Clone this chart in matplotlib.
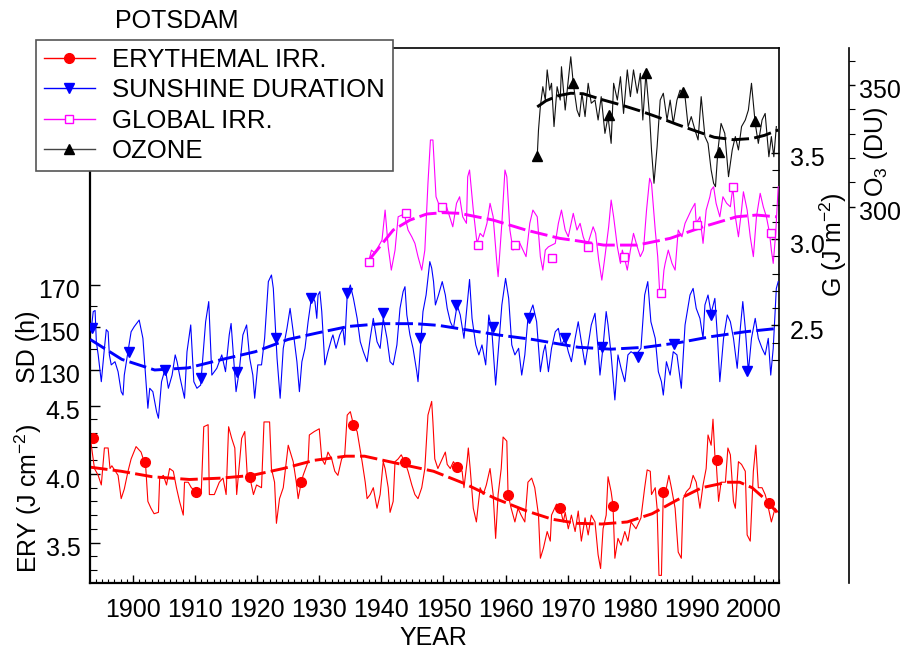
import matplotlib
matplotlib.use('Agg')
import matplotlib.pyplot as plt
from matplotlib.ticker import FixedLocator, FixedFormatter
from matplotlib.lines import Line2D
from matplotlib.transforms import ScaledTranslation

plt.rcParams['font.family'] = ['Liberation Sans', 'DejaVu Sans']
plt.rcParams['mathtext.fontset'] = 'custom'
plt.rcParams['mathtext.rm'] = 'Liberation Sans'
plt.rcParams['mathtext.it'] = 'Liberation Sans:italic'
plt.rcParams['mathtext.bf'] = 'Liberation Sans:bold'

# ---------------- data ----------------
ery_years = [1893.2, 1893.8, 1894.4, 1894.9, 1895.4, 1896.0, 1896.3, 1896.6, 1897.6, 1898.1,
             1898.6, 1899.2, 1899.7, 1900.5, 1901.3, 1901.8, 1902.0, 1902.4, 1902.9, 1903.4,
             1904.1, 1904.3, 1904.9, 1905.4, 1905.9, 1906.5, 1907.0, 1907.5, 1908.1, 1908.3,
             1908.9, 1909.4, 1910.2, 1911.0, 1911.4, 1912.1, 1912.3, 1913.1, 1913.9, 1914.5,
             1915.0, 1915.4, 1915.9, 1916.4, 1916.7, 1917.5, 1918.0, 1918.4, 1918.8, 1919.4,
             1919.9, 1920.7, 1921.1, 1922.0, 1922.3, 1922.8, 1923.1, 1923.6, 1924.2, 1925.0,
             1925.8, 1926.3, 1926.6, 1927.1, 1927.4, 1928.2, 1928.4, 1929.2, 1930.0, 1930.4,
             1930.9, 1931.4, 1932.0, 1932.5, 1933.0, 1933.6, 1934.1, 1934.5, 1935.0, 1935.5,
             1936.1, 1936.9, 1937.4, 1937.7, 1938.2, 1938.7, 1939.3, 1939.8, 1940.3, 1940.6,
             1941.1, 1941.4, 1941.9, 1942.2, 1942.7, 1943.2, 1943.8, 1944.3, 1944.9, 1945.4,
             1945.9, 1946.5, 1947.0, 1947.5, 1948.1, 1948.3, 1948.6, 1949.1, 1949.8, 1950.3,
             1950.6, 1951.1, 1951.6, 1952.2, 1953.0, 1953.3, 1953.8, 1954.0, 1954.3, 1954.8,
             1955.3, 1955.9, 1956.4, 1956.9, 1957.5, 1958.0, 1958.4, 1958.8, 1959.3, 1959.6,
             1960.2, 1960.4, 1960.9, 1961.5, 1962.0, 1962.5, 1963.1, 1963.6, 1964.2, 1964.7,
             1965.3, 1965.6, 1966.1, 1966.7, 1967.2, 1967.4, 1968.2, 1968.8, 1969.3, 1969.6,
             1970.1, 1970.6, 1971.2, 1971.7, 1972.2, 1972.8, 1973.3, 1973.8, 1974.4, 1974.9,
             1975.3, 1975.7, 1976.2, 1976.5, 1977.0, 1977.3, 1977.6, 1978.1, 1978.6, 1979.2,
             1979.7, 1980.2, 1981.0, 1981.8, 1982.4, 1982.8, 1983.3, 1983.5, 1984.1, 1984.4,
             1984.7, 1985.1, 1985.4, 1985.9, 1986.3, 1986.7, 1987.3, 1987.8, 1988.3, 1988.6,
             1989.1, 1989.7, 1990.2, 1990.7, 1991.3, 1991.8, 1992.3, 1992.6, 1993.1, 1993.4,
             1993.7, 1993.9, 1994.3, 1994.7, 1995.4, 1995.8, 1996.2, 1996.7, 1997.0, 1997.5,
             1998.0, 1998.6, 1998.9, 1999.4, 1999.9, 2000.3, 2000.7, 2001.3, 2001.8, 2002.1,
             2002.8, 2003.4, 2003.9]
ery_values = [4.24, 4.04, 3.99, 3.92, 4.19, 4.19, 4.04, 4.06, 3.99, 3.82,
              3.89, 4.02, 4.11, 4.20, 4.16, 4.09, 4.09, 3.80, 3.75, 3.71,
              3.72, 3.97, 3.99, 3.92, 4.04, 4.02, 3.90, 3.80, 3.70, 3.94,
              3.94, 3.90, 3.87, 3.87, 4.345, 4.36, 3.85, 3.85, 3.94, 3.97,
              3.85, 4.345, 4.26, 4.19, 3.85, 4.26, 4.31, 3.99, 3.98, 3.85,
              3.92, 3.90, 4.38, 4.38, 4.04, 3.94, 3.64, 3.82, 3.90, 4.21,
              4.09, 3.94, 3.82, 3.94, 3.99, 4.09, 4.285, 4.31, 4.33, 4.11,
              4.07, 4.16, 4.11, 4.02, 3.99, 4.11, 4.14, 4.43, 4.455, 4.36,
              4.31, 4.09, 3.94, 3.82, 3.85, 3.90, 3.75, 3.85, 4.09, 4.04,
              3.90, 3.72, 3.80, 4.09, 4.11, 4.14, 4.085, 4.02, 3.92, 3.85,
              3.82, 3.90, 4.04, 4.43, 4.53, 4.38, 4.11, 4.04, 4.11, 4.16,
              4.07, 4.04, 4.09, 4.05, 4.02, 3.90, 4.09, 4.19, 4.04, 3.75,
              3.65, 3.90, 3.85, 3.92, 4.04, 3.85, 3.53, 3.85, 4.04, 4.27,
              4.24, 3.85, 3.75, 3.65, 3.75, 3.70, 3.65, 3.94, 3.97, 3.90,
              3.70, 3.385, 3.46, 3.58, 3.51, 3.70, 3.78, 3.75, 3.65, 3.72,
              3.60, 3.70, 3.58, 3.73, 3.51, 3.68, 3.555, 3.70, 3.65, 3.41,
              3.31, 3.60, 3.70, 3.98, 3.87, 3.77, 3.385, 3.53, 3.48, 3.58,
              3.51, 3.65, 3.60, 3.68, 3.90, 4.03, 4.02, 3.85, 3.90, 3.75,
              3.26, 3.26, 3.87, 3.90, 3.99, 3.90, 3.75, 3.43, 3.385, 3.82,
              3.87, 3.90, 3.99, 3.94, 3.75, 3.92, 4.04, 4.285, 4.21, 4.40,
              4.14, 4.10, 3.80, 3.94, 3.94, 4.19, 4.14, 3.80, 3.75, 4.09,
              4.07, 4.02, 3.555, 3.51, 4.02, 4.21, 3.90, 3.90, 3.85, 3.80,
              3.65, 3.75, 3.72]
ery_mark_years = [1893.6, 1902.0, 1910.2, 1918.8, 1927.1, 1935.5, 1943.8, 1952.1, 1960.4,
                  1968.8, 1977.3, 1985.4, 1994.0, 2002.4]
ery_mark_values = [4.26, 4.09, 3.87, 3.98, 3.94, 4.36, 4.085, 4.05, 3.85,
                   3.75, 3.77, 3.87, 4.10, 3.79]
ery_trend_years = [1893.1, 1898.1, 1903.1, 1909.1, 1914.2, 1919.2, 1924.2, 1929.2, 1934.3,
                   1937.3, 1942.3, 1948.4, 1953.4, 1958.4, 1963.4, 1967.5, 1971.5, 1975.5,
                   1979.6, 1983.6, 1987.6, 1991.6, 1995.7, 1997.7, 1999.7, 2001.7, 2003.7]
ery_trend_values = [4.05, 4.02, 3.98, 3.96, 3.97, 3.99, 4.04, 4.10, 4.13,
                    4.13, 4.08, 4.02, 3.93, 3.82, 3.73, 3.67, 3.64, 3.635,
                    3.65, 3.71, 3.81, 3.90, 3.94, 3.94, 3.90, 3.82, 3.72]

sd_years = [1893.3, 1893.6, 1893.9, 1894.1, 1894.4, 1894.9, 1895.4, 1895.7, 1896.0, 1896.2,
            1896.5, 1897.1, 1897.6, 1898.1, 1898.4, 1898.6, 1899.2, 1899.7, 1900.2, 1900.8,
            1901.0, 1901.6, 1902.1, 1902.4, 1902.7, 1903.2, 1903.8, 1904.1, 1904.6, 1905.2,
            1905.7, 1906.3, 1906.8, 1907.1, 1907.6, 1908.3, 1908.7, 1909.3, 1909.8, 1910.3,
            1910.9, 1911.7, 1912.2, 1912.7, 1913.5, 1914.3, 1914.9, 1915.5, 1915.8, 1916.6,
            1917.1, 1917.7, 1918.3, 1918.8, 1919.3, 1919.6, 1920.1, 1920.7, 1921.2, 1921.8,
            1922.3, 1922.6, 1923.2, 1923.7, 1924.2, 1924.8, 1925.3, 1925.8, 1926.4, 1926.8,
            1927.2, 1927.7, 1928.2, 1928.8, 1929.3, 1929.6, 1929.8, 1930.1, 1930.4, 1930.9,
            1931.4, 1932.0, 1932.2, 1932.7, 1933.3, 1933.8, 1934.1, 1934.5, 1935.0, 1935.5,
            1936.1, 1936.6, 1937.1, 1937.7, 1938.2, 1938.7, 1939.3, 1939.8, 1940.3, 1940.9,
            1941.4, 1941.9, 1942.5, 1943.0, 1943.5, 1943.8, 1944.1, 1944.6, 1945.1, 1945.7,
            1945.9, 1946.4, 1946.7, 1947.2, 1947.8, 1948.1, 1948.4, 1948.7, 1949.2, 1949.8,
            1950.3, 1950.6, 1951.1, 1951.6, 1952.2, 1952.7, 1953.3, 1953.8, 1954.2, 1954.6,
            1955.2, 1955.7, 1956.2, 1956.8, 1957.3, 1957.8, 1958.4, 1958.9, 1959.4, 1960.0,
            1960.5, 1961.0, 1961.5, 1962.1, 1962.6, 1963.1, 1963.6, 1964.4, 1965.0, 1965.6,
            1966.1, 1966.4, 1966.9, 1967.4, 1968.0, 1968.5, 1969.0, 1969.6, 1970.1, 1970.6,
            1971.2, 1971.7, 1972.2, 1972.8, 1973.3, 1973.8, 1974.4, 1974.9, 1975.2, 1975.7,
            1976.2, 1976.5, 1977.0, 1977.6, 1978.1, 1978.6, 1979.2, 1979.7, 1980.2, 1981.0,
            1981.8, 1982.4, 1982.9, 1983.4, 1984.1, 1984.6, 1985.1, 1985.4, 1985.9, 1986.5,
            1987.0, 1987.6, 1988.3, 1988.9, 1989.7, 1990.2, 1990.7, 1991.3, 1991.8, 1992.1,
            1992.6, 1993.1, 1993.7, 1994.1, 1994.5, 1995.1, 1995.7, 1996.2, 1996.7, 1997.3,
            1997.8, 1998.2, 1998.6, 1999.1, 1999.6, 2000.2, 2000.7, 2001.3, 2001.8, 2002.3,
            2002.7, 2003.1, 2003.6, 2003.9]
sd_values = [149.6, 157.5, 158.0, 143.3, 137.1, 124.5, 140.2, 149.0, 148.0, 137.1,
             132.4, 133.9, 129.2, 119.8, 118.2, 127.6, 138.6, 148.0, 150.4, 152.7,
             153.5, 144.9, 124.5, 112.0, 121.4, 119.8, 110.4, 107.3, 124.5, 130.8,
             121.4, 127.6, 137.1, 133.9, 126.1, 116.7, 138.6, 151.2, 124.5, 121.4,
             122.9, 152.7, 162.2, 127.6, 130.8, 137.1, 129.2, 146.5, 151.9, 119.8,
             129.2, 146.5, 151.2, 135.5, 127.6, 116.7, 132.4, 132.4, 144.9, 171.6,
             174.7, 168.4, 135.5, 116.7, 140.2, 149.6, 159.0, 148.0, 133.9, 119.8,
             133.9, 140.2, 152.7, 165.3, 162.2, 154.3, 165.3, 166.9, 157.5, 132.4,
             138.6, 144.9, 146.5, 140.2, 146.5, 149.6, 141.8, 165.3, 170.0, 163.7,
             154.3, 143.3, 138.6, 133.9, 144.9, 154.3, 143.3, 140.2, 154.3, 144.9,
             133.9, 132.4, 141.8, 159.0, 166.9, 169.2, 155.9, 146.5, 140.2, 129.2,
             124.5, 144.9, 157.5, 165.3, 181.0, 178.0, 171.6, 160.6, 165.3, 171.6,
             165.3, 159.0, 152.7, 149.6, 160.6, 155.9, 144.9, 160.6, 172.6, 154.3,
             141.8, 137.1, 141.8, 132.4, 155.9, 148.0, 122.9, 141.8, 160.6, 173.1,
             163.7, 141.8, 137.1, 140.2, 127.6, 137.1, 154.3, 160.6, 152.7, 129.2,
             138.6, 141.8, 129.2, 140.2, 148.0, 149.6, 141.8, 144.9, 138.6, 133.9,
             144.9, 152.7, 143.3, 132.4, 141.8, 151.2, 156.7, 140.2, 127.6, 141.0,
             157.5, 151.2, 137.1, 115.9, 137.1, 130.8, 124.5, 137.1, 138.6, 137.1,
             140.2, 165.3, 171.6, 152.7, 144.9, 129.2, 124.5, 118.2, 133.9, 127.6,
             138.6, 137.1, 121.4, 151.2, 165.3, 168.4, 159.0, 154.3, 144.9, 160.6,
             165.3, 156.7, 163.7, 146.5, 124.5, 144.9, 155.9, 152.7, 144.9, 130.8,
             149.6, 162.2, 149.6, 129.2, 144.9, 154.3, 144.9, 140.2, 137.1, 144.9,
             127.6, 140.2, 168.4, 171.6]
sd_mark_years = [1893.4, 1899.3, 1905.1, 1911.0, 1916.8, 1923.0, 1928.6, 1934.4, 1940.3, 1946.2,
                 1952.0, 1957.9, 1963.7, 1969.6, 1975.5, 1981.3, 1987.2, 1993.0, 1998.9]
sd_mark_values = [149.6, 138.6, 130.0, 126.0, 129.0, 145.0, 164.0, 166.0, 157.0, 145.0,
                  160.6, 150.0, 154.3, 145.0, 141.0, 136.0, 142.0, 156.0, 129.5]
sd_trend_years = [1893.1, 1898.2, 1903.5, 1908.9, 1914.4, 1919.7, 1925.0, 1929.8, 1934.7,
                  1940.0, 1945.4, 1949.2, 1953.5, 1958.8, 1964.3, 1971.7, 1977.0, 1982.5,
                  1987.8, 1993.1, 1998.6, 2003.9]
sd_trend_values = [144.4, 135.0, 130.0, 131.0, 135.0, 138.6, 144.4, 147.5, 150.5,
                   151.8, 151.8, 151.0, 149.0, 146.5, 144.4, 140.7, 139.8, 140.7,
                   142.8, 145.7, 148.0, 149.6]

g_years = [1937.9, 1938.4, 1939.0, 1939.5, 1940.1, 1940.6, 1941.1, 1941.6, 1942.2, 1942.7,
           1943.3, 1943.8, 1944.3, 1944.9, 1945.4, 1945.9, 1946.5, 1947.0, 1947.5, 1947.9,
           1948.3, 1948.8, 1949.4, 1949.9, 1950.5, 1951.0, 1951.5, 1952.1, 1952.6, 1953.1,
           1953.7, 1953.9, 1954.2, 1954.8, 1955.4, 1955.9, 1956.4, 1957.0, 1957.5, 1958.0,
           1958.6, 1958.8, 1959.4, 1959.9, 1960.2, 1960.7, 1961.2, 1961.7, 1962.3, 1962.8,
           1963.3, 1963.9, 1964.4, 1965.1, 1965.6, 1966.0, 1966.4, 1966.9, 1968.0, 1968.5,
           1969.0, 1969.6, 1970.1, 1970.9, 1971.5, 1972.0, 1972.5, 1973.1, 1973.6, 1974.1,
           1974.5, 1975.0, 1975.5, 1976.0, 1976.6, 1977.0, 1977.4, 1978.0, 1978.5, 1978.8,
           1979.1, 1979.6, 1980.1, 1980.6, 1981.2, 1981.7, 1982.2, 1982.7, 1983.2, 1983.5,
           1984.1, 1984.5, 1984.8, 1985.2, 1985.5, 1985.7, 1986.2, 1986.8, 1987.3, 1987.8,
           1988.4, 1988.9, 1989.4, 1989.9, 1990.5, 1990.7, 1991.3, 1991.8, 1992.3, 1992.9,
           1993.1, 1993.5, 1993.9, 1994.5, 1995.0, 1995.6, 1996.2, 1996.6, 1997.0, 1997.5,
           1998.0, 1998.3, 1998.9, 1999.4, 1999.9, 2000.4, 2001.0, 2001.5, 2002.0, 2002.5,
           2002.8, 2003.1, 2003.5, 2003.9]
g_values = [2.859, 2.936, 2.917, 2.955, 2.994, 3.168, 2.955, 2.820, 2.936, 3.129,
            3.139, 3.129, 3.052, 3.013, 2.975, 2.898, 2.820, 2.936, 3.323, 3.574,
            3.574, 3.245, 3.187, 3.149, 3.187, 3.129, 3.071, 3.207, 3.245, 3.129,
            3.091, 3.361, 3.400, 3.168, 2.975, 3.033, 3.013, 3.091, 3.207, 3.129,
            2.859, 2.782, 3.091, 3.400, 3.361, 3.052, 2.936, 2.975, 2.975, 2.936,
            2.898, 3.091, 3.168, 3.129, 2.898, 2.820, 2.936, 2.955, 2.975, 3.091,
            3.168, 3.052, 3.013, 3.149, 3.052, 3.091, 3.013, 2.955, 3.013, 3.071,
            3.033, 2.878, 2.762, 2.898, 3.071, 3.226, 3.129, 2.955, 2.859, 2.936,
            2.898, 2.820, 2.936, 3.033, 2.955, 2.898, 2.936, 3.168, 3.352, 3.323,
            3.052, 2.898, 2.700, 2.690, 2.820, 2.859, 2.936, 2.859, 2.820, 3.052,
            3.013, 3.091, 3.129, 3.168, 3.207, 3.091, 3.129, 2.975, 3.168, 3.245,
            3.284, 3.303, 3.207, 3.129, 3.245, 3.207, 3.187, 3.300, 3.129, 3.013,
            3.168, 3.274, 3.168, 3.013, 2.898, 3.129, 3.265, 3.187, 3.129, 3.037,
            2.936, 2.859, 3.033, 3.303]
g_mark_years = [1938.0, 1943.9, 1949.8, 1955.6, 1961.5, 1967.4, 1973.3, 1979.1, 1985.0,
                1990.9, 1996.6, 2002.7]
g_mark_values = [2.869, 3.149, 3.184, 2.965, 2.965, 2.888, 2.955, 2.894, 2.687,
                 3.081, 3.300, 3.037]
g_trend_years = [1938.0, 1941.9, 1944.6, 1947.3, 1949.9, 1952.6, 1958.0, 1963.3, 1968.7,
                 1971.5, 1975.8, 1981.2, 1986.5, 1991.8, 1997.2, 2000.4, 2003.6]
g_trend_values = [2.878, 3.052, 3.110, 3.145, 3.153, 3.149, 3.110, 3.052, 3.004,
                  2.990, 2.965, 2.965, 3.004, 3.071, 3.129, 3.139, 3.129]

o3_years = [1965.1, 1965.3, 1965.6, 1966.0, 1966.4, 1966.7, 1967.1, 1967.4, 1967.8, 1968.3,
            1968.8, 1969.0, 1969.6, 1970.1, 1970.5, 1970.9, 1971.5, 1971.9, 1972.3, 1972.8,
            1973.3, 1973.8, 1974.4, 1974.9, 1975.4, 1976.0, 1976.5, 1977.0, 1977.4, 1978.0,
            1978.5, 1979.0, 1979.6, 1980.1, 1980.6, 1981.2, 1981.7, 1982.1, 1982.6, 1983.2,
            1983.5, 1983.9, 1984.4, 1984.9, 1985.4, 1986.0, 1986.5, 1987.0, 1987.6, 1988.1,
            1988.9, 1989.4, 1989.9, 1990.5, 1991.0, 1991.5, 1992.1, 1992.6, 1993.1, 1993.5,
            1993.8, 1994.2, 1994.7, 1995.3, 1995.9, 1996.5, 1997.0, 1997.5, 1998.0, 1998.6,
            1999.1, 1999.6, 2000.2, 2000.7, 2001.3, 2001.8, 2002.4, 2002.8, 2003.2, 2003.6]
o3_values = [320.8, 331.5, 341.1, 349.3, 343.8, 356.2, 347.9, 350.7, 332.9, 349.3,
             343.8, 357.5, 339.7, 352.1, 361.6, 350.7, 339.7, 337.0, 346.6, 337.0,
             350.7, 342.5, 343.8, 335.6, 345.2, 330.1, 337.0, 326.0, 350.7, 343.8,
             353.4, 338.3, 356.2, 345.2, 356.2, 346.6, 354.8, 335.6, 354.8, 337.0,
             323.3, 309.6, 324.6, 343.8, 346.6, 335.6, 343.8, 334.2, 343.8, 347.9,
             345.2, 332.9, 337.0, 331.5, 327.4, 345.2, 328.8, 326.0, 315.1, 309.6,
             308.2, 323.3, 334.2, 330.1, 312.3, 323.3, 328.8, 323.3, 332.9, 335.6,
             339.7, 350.7, 334.2, 326.0, 335.6, 338.3, 320.5, 328.8, 320.5, 332.9]
o3_mark_years = [1965.0, 1970.9, 1976.7, 1982.6, 1988.5, 1994.4, 2000.2]
o3_mark_values = [320.8, 350.7, 337.7, 354.8, 347.3, 322.6, 335.3]
o3_trend_years = [1965.1, 1966.5, 1968.5, 1970.5, 1972.5, 1975.5, 1978.6, 1981.6, 1984.6,
                  1987.6, 1990.6, 1993.6, 1996.7, 1999.7, 2001.7, 2003.9]
o3_trend_values = [341.0, 343.5, 345.6, 346.6, 346.4, 344.0, 341.8, 339.4, 336.7,
                   333.8, 331.1, 328.5, 327.5, 328.0, 329.3, 331.5]

legend_labels = ['ERYTHEMAL IRR.', 'SUNSHINE DURATION', 'GLOBAL IRR.', 'OZONE']
year_ticks = [1900, 1910, 1920, 1930, 1940, 1950, 1960, 1970, 1980, 1990, 2000]

# ---------------- layout ----------------
W, H = 902, 651
fig = plt.figure(figsize=(W / 100, H / 100), dpi=100)
L, R, B, T = 90, 779, 583, 48
ax = fig.add_axes([L / W, 1 - B / H, (R - L) / W, (B - T) / H])
ax.set_xlim(1893.08, 2004.03)
ax.set_ylim(3.2044, 7.1095)

ax_sd = ax.twinx()
ax_sd.set_ylim(29.76, 281.53)
ax_g = ax.twinx()
ax_g.set_ylim(1.007, 4.107)
ax_o3 = ax.twinx()
ax_o3.set_ylim(145.3, 365.2)

FS = 18
RED, BLUE, MAG, BLK = '#ff0000', '#0000ff', '#ff00ff', '#000000'
dash = (0, (6, 1.8))

# series
ax.plot(ery_years, ery_values, color=RED, lw=0.8)
ax.plot(ery_trend_years, ery_trend_values, color=RED, lw=2.1, ls=dash)
ax.plot(ery_mark_years, ery_mark_values, ls='none', marker='o', ms=7, color=RED)

ax_sd.plot(sd_years, sd_values, color=BLUE, lw=0.8)
ax_sd.plot(sd_trend_years, sd_trend_values, color=BLUE, lw=2.1, ls=dash)
ax_sd.plot(sd_mark_years, sd_mark_values, ls='none', marker='v', ms=7.5, color=BLUE)

ax_g.plot(g_years, g_values, color=MAG, lw=0.8)
ax_g.plot(g_trend_years, g_trend_values, color=MAG, lw=2.1, ls=dash)
ax_g.plot(g_mark_years, g_mark_values, ls='none', marker='s', ms=6, mfc='white',
          mec=MAG, mew=1)

ax_o3.plot(o3_years, o3_values, color='#111111', lw=0.8)
ax_o3.plot(o3_trend_years, o3_trend_values, color=BLK, lw=2.1, ls=dash)
ax_o3.plot(o3_mark_years, o3_mark_values, ls='none', marker='^', ms=6.5, color=BLK)

# spines
for a in (ax_sd, ax_g, ax_o3):
    for s in a.spines.values():
        s.set_visible(False)
ax.spines['left'].set_linewidth(1.6)
ax.spines['bottom'].set_linewidth(1.6)
ax.spines['right'].set_linewidth(1.2)
ax.spines['top'].set_linewidth(1.2)
ax_o3.spines['right'].set_visible(True)
ax_o3.spines['right'].set_position(('outward', 50.4))
ax_o3.spines['right'].set_linewidth(1.2)

# x axis
ax.xaxis.set_major_locator(FixedLocator(year_ticks))
ax.xaxis.set_major_formatter(FixedFormatter([str(y) for y in year_ticks]))
ax.xaxis.set_minor_locator(FixedLocator(list(range(1894, 2005))))
ax.tick_params(axis='x', which='major', direction='in', length=6, width=1,
               labelsize=FS, pad=11)
ax.tick_params(axis='x', which='minor', direction='in', length=3, width=0.8)

# ERY (left)
ax.yaxis.set_major_locator(FixedLocator([3.5, 4.0, 4.5]))
ax.yaxis.set_major_formatter(FixedFormatter(['3.5', '4.0', '4.5']))
ax.yaxis.set_minor_locator(FixedLocator([3.3, 3.4, 3.6, 3.7, 3.8, 3.9, 4.1, 4.2, 4.3, 4.4]))
ax.tick_params(axis='y', which='major', direction='in', length=7, width=1,
               labelsize=FS, pad=7, left=True, right=False)
ax.tick_params(axis='y', which='minor', direction='in', length=5, width=0.8,
               left=True, right=False)

# SD (left)
ax_sd.yaxis.set_ticks_position('left')
ax_sd.yaxis.set_major_locator(FixedLocator([130, 150, 170]))
ax_sd.yaxis.set_major_formatter(FixedFormatter(['130', '150', '170']))
ax_sd.yaxis.set_minor_locator(FixedLocator([140, 160]))
ax_sd.tick_params(axis='y', which='major', direction='in', length=7, width=1,
                  labelsize=FS, pad=7, left=True, labelleft=True, right=False,
                  labelright=False)
ax_sd.tick_params(axis='y', which='minor', direction='in', length=5, width=0.8,
                  left=True, right=False)

# G (right)
ax_g.yaxis.set_major_locator(FixedLocator([2.5, 3.0, 3.5]))
ax_g.yaxis.set_major_formatter(FixedFormatter(['2.5', '3.0', '3.5']))
ax_g.yaxis.set_minor_locator(FixedLocator([2.3, 2.4, 2.6, 2.7, 2.8, 2.9, 3.1, 3.2, 3.3, 3.4]))
ax_g.tick_params(axis='y', which='major', direction='in', length=6, width=1,
                 labelsize=FS, pad=8)
ax_g.tick_params(axis='y', which='minor', direction='in', length=5, width=0.8)

# O3 (far right)
ax_o3.yaxis.set_major_locator(FixedLocator([300, 350]))
ax_o3.yaxis.set_major_formatter(FixedFormatter(['300', '350']))
ax_o3.yaxis.set_minor_locator(FixedLocator([310, 320, 330, 340, 360]))
ax_o3.tick_params(axis='y', which='major', direction='out', length=4, width=1,
                  labelsize=FS, pad=3)
ax_o3.tick_params(axis='y', which='minor', direction='out', length=4, width=0.8)

# y tick labels sit a few pixels below their ticks in the reference
off = ScaledTranslation(0, -4 / 100, fig.dpi_scale_trans)
for a in (ax, ax_sd, ax_g, ax_o3):
    for lab in a.yaxis.get_majorticklabels():
        lab.set_transform(lab.get_transform() + off)

# labels
fig.text(28 / W, 1 - 498 / H, r'ERY (J cm$^{-2}$)', rotation=90, ha='center',
         va='center', fontsize=FS)
fig.text(28 / W, 1 - 347 / H, 'SD (h)', rotation=90, ha='center', va='center', fontsize=FS)
fig.text(833 / W, 1 - 245 / H, r'G (J m$^{-2}$)', rotation=90, ha='center',
         va='center', fontsize=FS)
fig.text(876 / W, 1 - 152 / H, r'O$_3$ (DU)', rotation=90, ha='center', va='center',
         fontsize=FS)
fig.text(433 / W, 1 - 638 / H, 'YEAR', ha='center', va='center', fontsize=FS)
fig.text(115 / W, 1 - 21 / H, 'POTSDAM', ha='left', va='center', fontsize=FS)

# legend
handles = [
    Line2D([], [], color=RED, lw=1, marker='o', ms=7),
    Line2D([], [], color=BLUE, lw=1, marker='v', ms=7.5),
    Line2D([], [], color=MAG, lw=1, marker='s', ms=6, mfc='white', mec=MAG),
    Line2D([], [], color='#444444', lw=1, marker='^', ms=6.5, mfc=BLK, mec=BLK),
]
leg = fig.legend(handles, legend_labels, loc='upper left',
                 bbox_to_anchor=(36 / W, 1 - 40 / H), frameon=True, fancybox=False,
                 edgecolor='#555555', framealpha=1, borderaxespad=0, fontsize=18.5,
                 handlelength=2.0, handletextpad=0.66, labelspacing=0.25,
                 borderpad=0.3)
leg.get_frame().set_linewidth(1.2)

fig.savefig('out.png', dpi=100)
